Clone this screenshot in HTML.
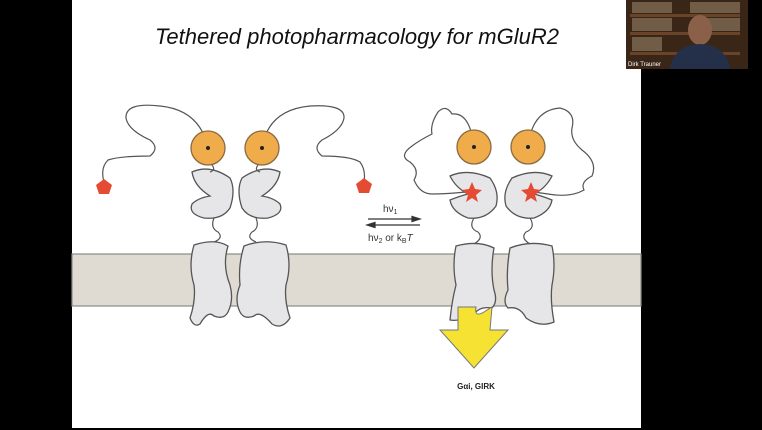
<!DOCTYPE html>
<html><head><meta charset="utf-8"><style>
html,body{margin:0;padding:0;background:#000;width:762px;height:430px;overflow:hidden}
svg{display:block}
</style></head><body>
<svg width="762" height="430" viewBox="0 0 762 430" xmlns="http://www.w3.org/2000/svg" font-family="Liberation Sans, sans-serif">
<rect width="762" height="430" fill="#000"/>
<rect x="72" y="0" width="569" height="428" fill="#fff"/>
<text x="357" y="44" font-size="22" font-style="italic" text-anchor="middle" fill="#111">Tethered photopharmacology for mGluR2</text>
<!-- membrane -->
<rect x="72" y="254" width="569" height="52" fill="#e0dbd2" stroke="#8a8a85" stroke-width="1.2"/>
<g fill="#e6e6e8" stroke="#555" stroke-width="1.3">
<path d="M194 245 Q215 238 228 246 Q222 265 230 285 Q234 300 228 312 Q224 320 214 316 Q208 310 200 324 Q194 328 190 318 Q196 300 194 285 Q188 265 194 245Z"/>
<path d="M286 245 Q265 238 244 246 Q238 265 240 285 Q234 300 240 312 Q244 320 254 316 Q260 310 272 324 Q282 330 290 318 Q284 300 286 285 Q292 265 286 245Z"/>
<path d="M192 172 Q210 164 230 178 Q236 190 230 208 Q222 220 204 218 Q188 214 192 204 Q198 198 210 196 Q194 186 192 172Z"/>
<path d="M280 172 Q262 164 242 178 Q236 190 242 208 Q250 220 268 218 Q284 214 280 204 Q274 198 262 196 Q278 186 280 172Z"/>
<path d="M456 246 Q478 240 494 248 Q490 270 494 290 Q498 302 492 308 Q480 306 474 314 Q460 322 450 320 Q452 300 456 285 Q452 265 456 246Z"/>
<path d="M552 246 Q530 240 510 248 Q506 270 508 290 Q502 302 508 308 Q520 306 526 318 Q540 328 554 322 Q550 300 552 285 Q556 265 552 246Z"/>
<path d="M450 176 Q468 168 490 178 Q500 192 496 206 Q486 220 468 218 Q452 212 450 200 Q460 196 468 194 Q456 188 450 176Z"/>
<path d="M552 176 Q534 168 512 178 Q502 192 506 206 Q516 220 534 218 Q550 212 552 200 Q542 196 534 194 Q546 188 552 176Z"/>
</g>
<g fill="none" stroke="#555" stroke-width="1.2">
<path d="M214 218 Q210 228 218 232 Q224 238 214 242"/>
<path d="M256 218 Q260 228 252 232 Q246 238 256 242"/>
<path d="M474 218 Q468 228 478 232 Q484 238 474 244"/>
<path d="M530 218 Q536 228 526 232 Q520 238 530 244"/>
<path d="M212 165 Q216 170 210 172"/><path d="M258 165 Q254 170 260 172"/>
<path d="M208 148 Q200 110 160 106 Q125 102 126 118 Q128 130 150 140 Q160 148 150 156 Q120 156 108 160 Q100 168 104 182"/>
<path d="M262 148 Q268 110 310 106 Q345 104 344 118 Q342 130 322 140 Q312 148 322 156 Q350 156 360 162 Q366 170 364 182"/>
<path d="M474 147 Q470 112 452 114 Q446 104 438 112 Q430 124 432 134 Q420 140 412 146 Q398 156 410 162 Q420 170 414 180 Q420 194 432 194 Q446 194 466 192"/>
<path d="M528 147 Q532 110 560 108 Q576 112 572 128 Q570 140 582 150 Q598 162 592 176 Q580 182 584 190 Q570 198 548 194 L534 192"/>
</g>
<g fill="#f0ab4a" stroke="#8a6a40" stroke-width="1.3">
<circle cx="208" cy="148" r="17"/><circle cx="262" cy="148" r="17"/>
<circle cx="474" cy="147" r="17"/><circle cx="528" cy="147" r="17"/>
</g>
<g fill="#222"><circle cx="208" cy="148" r="2"/><circle cx="262" cy="148" r="2"/><circle cx="474" cy="147" r="2"/><circle cx="528" cy="147" r="2"/></g>
<g fill="#e54a32">
<polygon points="104,179 112,185 109,194 99,194 96,185"/>
<polygon points="364,178 372,184 369,193 359,193 356,184"/>
<polygon points="472,182 475,189 482,190 476,195 478,202 472,198 466,202 468,195 462,190 469,189"/>
<polygon points="531,182 534,189 541,190 535,195 537,202 531,198 525,202 527,195 521,190 528,189"/>
</g>
<g stroke="#333" stroke-width="1.2" fill="#333">
<line x1="368" y1="219" x2="416" y2="219"/><polygon points="420,219 412,216.5 412,221.5"/>
<line x1="372" y1="225" x2="420" y2="225"/><polygon points="367,225 375,222.5 375,227.5"/>
</g>
<text x="383" y="212" font-size="10" fill="#333">hν<tspan font-size="7" dy="2">1</tspan></text>
<text x="368" y="241" font-size="10" fill="#333">hν<tspan font-size="7" dy="2">2</tspan><tspan dy="-2"> or k</tspan><tspan font-size="7" dy="2">B</tspan><tspan dy="-2" font-style="italic">T</tspan></text>
<path d="M458 307 L476 307 Q474 318 484 312 L492 307 L490 330 L508 330 L474 368 L440 330 L458 330Z" fill="#f5e232" stroke="#777" stroke-width="1"/>
<text x="476" y="389" font-size="8" font-weight="bold" text-anchor="middle" fill="#222">Gαi, GIRK</text>
<rect x="626" y="0" width="122" height="69" fill="#3a2616"/>
<g fill="#6a4428"><rect x="630" y="14" width="110" height="3"/><rect x="630" y="32" width="110" height="3"/><rect x="630" y="52" width="110" height="3"/></g>
<g fill="#a89578" opacity=".5"><rect x="632" y="2" width="40" height="11"/><rect x="690" y="2" width="50" height="11"/><rect x="632" y="18" width="40" height="13"/><rect x="700" y="18" width="40" height="13"/><rect x="632" y="37" width="30" height="14"/></g>
<ellipse cx="700" cy="30" rx="12" ry="15" fill="#8a6048"/>
<path d="M670 69 Q674 45 700 44 Q726 45 730 69Z" fill="#24304a"/>
<text x="628" y="66" font-size="6" fill="#fff">Dirk Trauner</text>
</svg>
</body></html>
